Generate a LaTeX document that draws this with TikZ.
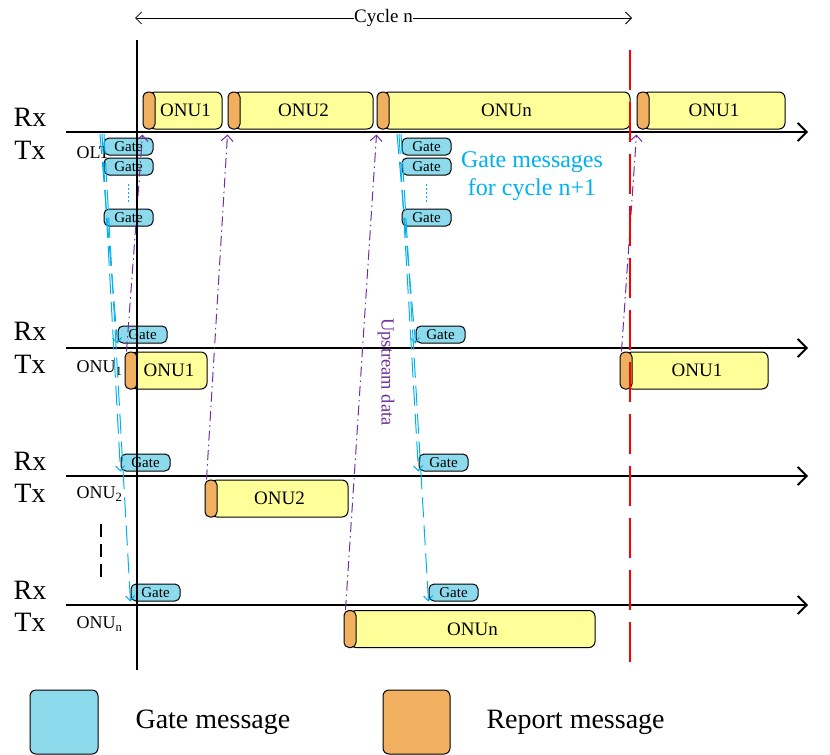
\documentclass[tikz,border=0pt]{standalone}
\usepackage{fontspec}
\setmainfont{Liberation Serif}
\usetikzlibrary{arrows.meta}
\definecolor{gatefill}{RGB}{140,218,236}
\definecolor{slotfill}{RGB}{255,255,153}
\definecolor{reportfill}{RGB}{240,176,96}
\definecolor{msgblue}{RGB}{0,176,240}
\definecolor{updpurple}{RGB}{112,48,160}
\newcommand{\fs}[1]{\fontsize{#1}{#1}\selectfont}
\begin{document}
\begin{tikzpicture}[x=1pt,y=-1pt,
    timeline/.style={line width=1.8pt,-{Straight Barb[length=9pt,width=18pt,line width=1.8pt]}},
    gatebox/.style={draw,line width=1pt,rounded corners=5pt,fill=gatefill,minimum width=49pt,minimum height=17pt,inner sep=0pt,font=\fs{15}},
    slotbox/.style={draw,line width=1pt,rounded corners=6pt,fill=slotfill,minimum height=37pt,inner sep=0pt,font=\fs{19}},
    reportbox/.style={draw,line width=1pt,rounded corners=5pt,fill=reportfill,minimum width=12pt,minimum height=37pt,inner sep=0pt},
    gatemsg/.style={draw=msgblue,line width=1pt,dash pattern=on 20pt off 8pt,-{Straight Barb[length=5pt,width=9pt]}},
    updata/.style={draw=updpurple,line width=1pt,dash pattern=on 10pt off 4pt on 1.5pt off 4pt,-{Straight Barb[length=6pt,width=12pt]}},
    rxtx/.style={font=\fs{28}},
    station/.style={font=\fs{18},anchor=west}]
	\useasboundingbox (0,0) rectangle (830,755);
	% cycle
	\coordinate (cs) at (135,18);
	\coordinate (ce) at (632,18);
	\draw [line width=0.8pt,{Straight Barb[length=6pt,width=12pt]}-{Straight Barb[length=6pt,width=12pt]}] (cs) -- node[fill=white,inner sep=0.5pt,font=\fs{19}] (cyc) {Cycle n} (ce);
	% time lines
	\draw [timeline] (66,132) -- (808,132);
	\draw [timeline] (66,348) -- (808,348);
	\draw [timeline] (66,476) -- (808,476);
	\draw [timeline] (66,605) -- (808,605);
	\node [rxtx] (rx0) at (30,117) {Rx};
	\node [rxtx] (tx0) at (30,150) {Tx};
	\node [rxtx] (rx1) at (30,331) {Rx};
	\node [rxtx] (tx1) at (30,364) {Tx};
	\node [rxtx] (rx2) at (30,461) {Rx};
	\node [rxtx] (tx2) at (30,493) {Tx};
	\node [rxtx] (rxn) at (30,590) {Rx};
	\node [rxtx] (txn) at (30,622) {Tx};
	\node [station] (olt) at (73,153) {OLT};
	\node [station] (onu1) at (73,368) {ONU\textsubscript{1}};
	\node [station] (onu2) at (73,494) {ONU\textsubscript{2}};
	\node [station] (onun) at (73,624) {ONU\textsubscript{n}};
	% OLT receive slots
	\node [slotbox,minimum width=73pt] (l1) at (185.5,110.5) {ONU1};
	\node [reportbox] (l1r) at (149,110.5) {};
	\node [slotbox,minimum width=139pt] (l2) at (303.5,110.5) {ONU2};
	\node [reportbox] (l2r) at (234,110.5) {};
	\node [slotbox,minimum width=247pt] (ln) at (506.5,110.5) {ONUn};
	\node [reportbox] (lnr) at (383,110.5) {};
	\node [slotbox,minimum width=142pt] (l4) at (714,110.5) {ONU1};
	\node [reportbox] (l4r) at (643,110.5) {};
	% ONU transmit slots
	\node [slotbox,minimum width=76pt] (o1) at (169,370.5) {ONU1};
	\node [reportbox] (o1r) at (131,370.5) {};
	\node [slotbox,minimum width=142pt] (o4) at (697,370.5) {ONU1};
	\node [reportbox] (o4r) at (626,370.5) {};
	\node [slotbox,minimum width=137pt] (o2) at (279.5,498.5) {ONU2};
	\node [reportbox] (o2r) at (211,498.5) {};
	\node [slotbox,minimum width=245pt] (on) at (472.5,629) {ONUn};
	\node [reportbox] (onr) at (350,629) {};
	% gate messages
	\node [gatebox] (ga1) at (128.5,146.5) {Gate};
	\node [gatebox] (ga2) at (128.5,166.5) {Gate};
	\node [gatebox] (ga3) at (128.5,217.5) {Gate};
	\node [gatebox] (gb1) at (426.5,146.5) {Gate};
	\node [gatebox] (gb2) at (426.5,166.5) {Gate};
	\node [gatebox] (gb3) at (426.5,217.5) {Gate};
	\draw [msgblue,line width=1.2pt,dash pattern=on 2pt off 2pt] (ga2.south) ++(0,8) -- ++(0,18);
	\draw [msgblue,line width=1.2pt,dash pattern=on 2pt off 2pt] (gb2.south) ++(0,8) -- ++(0,18);
	\node [text=msgblue,font=\fontsize{24}{28}\selectfont,align=center] (gml) at (532,176) {Gate messages\\for cycle n+1};
	\node [gatebox] (u1a) at (142.5,334.5) {Gate};
	\node [gatebox] (u1b) at (440.5,334.5) {Gate};
	\node [gatebox] (u2a) at (145.5,462.5) {Gate};
	\node [gatebox] (u2b) at (443.5,462.5) {Gate};
	\node [gatebox] (una) at (155.5,592.5) {Gate};
	\node [gatebox] (unb) at (453.5,592.5) {Gate};
	\coordinate (a1) at (100,134);
	\coordinate (a2) at (102,134);
	\coordinate (a3) at (104,134);
	\coordinate (b1) at (397,134);
	\coordinate (b2) at (399,134);
	\coordinate (b3) at (401,134);
	\draw [gatemsg] (a1) -- (u1a.south west);
	\draw [gatemsg] (a2) -- (u2a.south west);
	\draw [gatemsg] (a3) -- (una.south west);
	\draw [gatemsg] (b1) -- (u1b.south west);
	\draw [gatemsg] (b2) -- (u2b.south west);
	\draw [gatemsg] (b3) -- (unb.south west);
	% upstream data
	\draw [updata] ([xshift=2pt]o1r.north west) -- ([yshift=-5pt]l1r.south west);
	\draw [updata] ([xshift=2pt]o2r.north west) -- ([yshift=-5pt]l2r.south west);
	\draw [updata] ([xshift=2pt]onr.north west) -- ([yshift=-5pt]lnr.south west);
	\draw [updata] ([xshift=2pt]o4r.north west) -- ([yshift=-5pt]l4r.south west);
	\node [rotate=-90,text=updpurple,font=\fs{18.5}] (upl) at (386,372) {Upstream data};
	% markers
	\draw [line width=1.2pt] (137,40) -- (137,670);
	\draw [red,line width=1.3pt,dash pattern=on 40pt off 12pt] (630,50) -- (630,662);
	\draw [line width=1.5pt,dash pattern=on 13pt off 7pt] (101,524) -- (101,577);
	% legend
	\node [draw,line width=1pt,rounded corners=6pt,fill=gatefill,minimum width=68pt,minimum height=64pt] (lgate) at (64,722) {};
	\node [anchor=west,font=\fs{28}] (lgatet) at (132,722) {Gate message};
	\node [draw,line width=1pt,rounded corners=6pt,fill=reportfill,minimum width=67pt,minimum height=64pt] (lrep) at (416.5,722) {};
	\node [anchor=west,font=\fs{28}] (lrept) at (483,722) {Report message};
\end{tikzpicture}
\end{document}
